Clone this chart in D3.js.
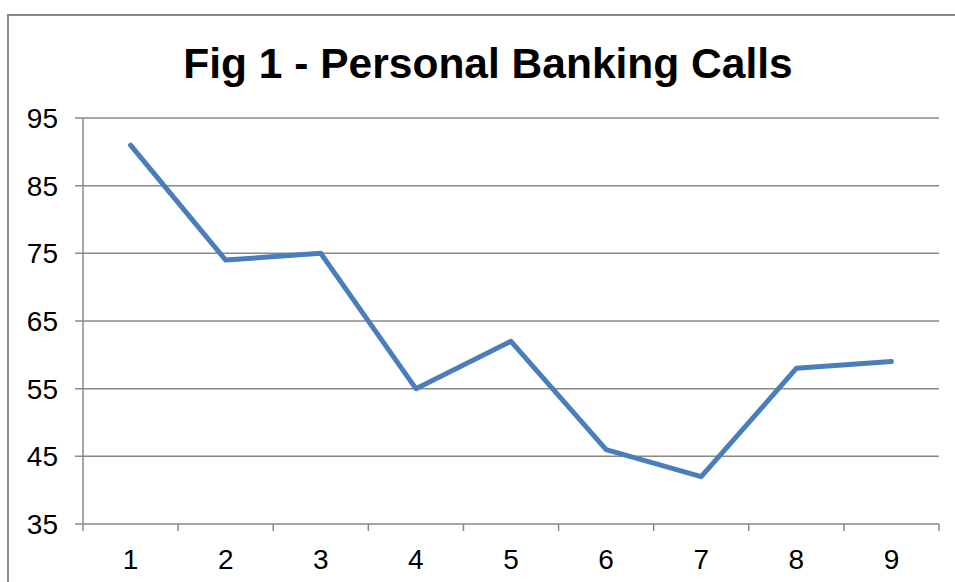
<!DOCTYPE html>
<html>
<head>
<meta charset="utf-8">
<script src="https://cdn.jsdelivr.net/npm/d3@7"></script>
<style>
  body { margin: 0; background: #fff; }
  text { font-family: "Liberation Sans", Arial, sans-serif; fill: #000; }
</style>
</head>
<body>
<svg width="955" height="582"></svg>
<script>
var categories = ['1', '2', '3', '4', '5', '6', '7', '8', '9'];
var calls = [91, 74, 75, 55, 62, 46, 42, 58, 59];
var yTicks = [35, 45, 55, 65, 75, 85, 95];
var title = 'Fig 1 - Personal Banking Calls';

var svg = d3.select('svg');
var plot = {l: 83, r: 939, t: 118, b: 524};
var gridColor = '#888';

// outer frame (only top and left edges are inside the picture)
svg.append('path')
    .attr('d', 'M8,582V15H960')
    .attr('fill', 'none')
    .attr('stroke', '#8a8a8a')
    .attr('stroke-width', 2);

svg.append('text')
    .attr('x', 488)
    .attr('y', 78)
    .attr('text-anchor', 'middle')
    .style('font-size', '42.5px')
    .style('font-weight', 'bold')
    .text(title);

var x = d3.scaleBand()
    .domain(categories)
    .range([plot.l, plot.r]);

var y = d3.scaleLinear()
    .domain([35, 95])
    .range([plot.b, plot.t]);

// horizontal gridlines + y ticks
svg.append('g').selectAll('line')
    .data(yTicks)
    .enter().append('line')
    .attr('x1', plot.l - 8)
    .attr('x2', plot.r)
    .attr('y1', function(d) { return y(d); })
    .attr('y2', function(d) { return y(d); })
    .attr('stroke', gridColor)
    .attr('stroke-width', 1.5);

svg.append('g').selectAll('text')
    .data(yTicks)
    .enter().append('text')
    .attr('x', 58)
    .attr('y', function(d) { return y(d) + 10; })
    .attr('text-anchor', 'end')
    .style('font-size', '28px')
    .text(function(d) { return d; });

// y axis line
svg.append('line')
    .attr('x1', plot.l).attr('x2', plot.l)
    .attr('y1', plot.t).attr('y2', plot.b)
    .attr('stroke', gridColor)
    .attr('stroke-width', 1.5);

// category boundary ticks
var bounds = categories.map(function(c) { return x(c); }).concat([plot.r]);
svg.append('g').selectAll('line')
    .data(bounds)
    .enter().append('line')
    .attr('x1', function(d) { return d; })
    .attr('x2', function(d) { return d; })
    .attr('y1', plot.b)
    .attr('y2', plot.b + 7)
    .attr('stroke', gridColor)
    .attr('stroke-width', 1.5);

svg.append('g').selectAll('text')
    .data(categories)
    .enter().append('text')
    .attr('x', function(d) { return x(d) + x.bandwidth() / 2; })
    .attr('y', 569)
    .attr('text-anchor', 'middle')
    .style('font-size', '28px')
    .text(function(d) { return d; });

var line = d3.line()
    .x(function(d, i) { return x(categories[i]) + x.bandwidth() / 2; })
    .y(function(d) { return y(d); });

svg.append('path')
    .datum(calls)
    .attr('d', line)
    .attr('fill', 'none')
    .attr('stroke', '#4a7ebb')
    .attr('stroke-width', 5)
    .attr('stroke-linejoin', 'round')
    .attr('stroke-linecap', 'round');
</script>
</body>
</html>
